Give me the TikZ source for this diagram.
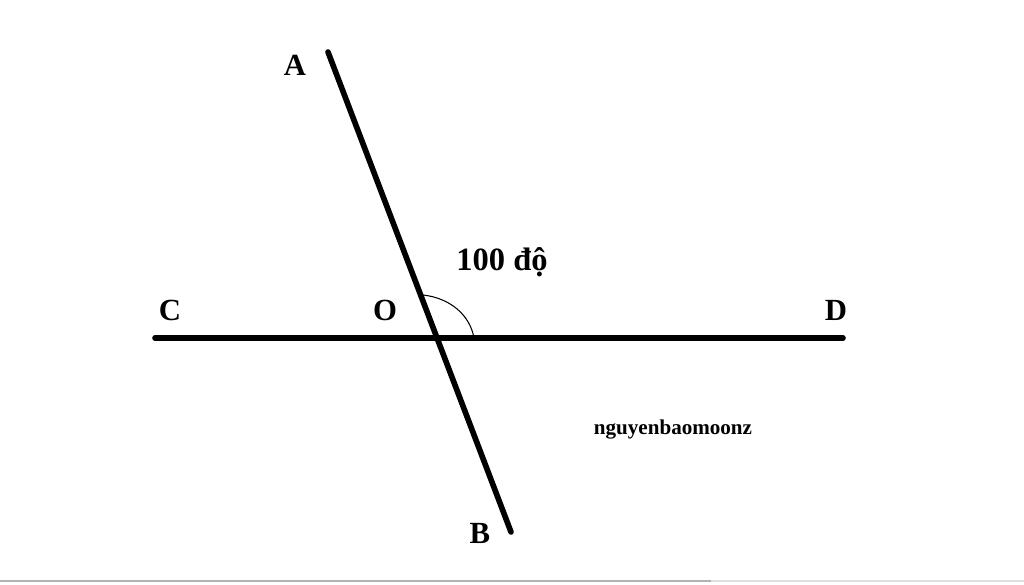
\documentclass[tikz,border=0pt]{standalone}
\usepackage{fontspec}
\setmainfont{Liberation Serif}
\begin{document}
\begin{tikzpicture}[line/.style={line width=3.2pt, line cap=round},
  lbl/.style={font=\fontsize{17.5}{20}\selectfont\bfseries, inner sep=0pt}]
\useasboundingbox (0,0) rectangle (20.48,-11.70);
\coordinate (a) at (6.56,-1.04);
\coordinate (b) at (10.22,-10.64);
\coordinate (c) at (3.10,-6.76);
\coordinate (d) at (16.86,-6.76);
\coordinate (o) at (8.74,-6.76);
\coordinate (s) at (8.46,-5.90);
\coordinate (e) at (9.48,-6.76);
\node[lbl] (A) at (5.90,-1.30) {A};
\node[lbl] (B) at (9.60,-10.66) {B};
\node[lbl] (C) at (3.40,-6.20) {C};
\node[lbl] (O) at (7.70,-6.20) {O};
\node[lbl] (D) at (16.72,-6.20) {D};
\node[lbl, font=\fontsize{18.5}{22}\selectfont\bfseries] (angle) at (10.04,-5.24) {100 độ};
\node[font=\fontsize{12}{14}\selectfont\bfseries, inner sep=0pt] (name) at (13.46,-8.60) {nguyenbaomoonz};
\draw[line] (a) -- (b);
\draw[line] (c) -- (d);
\draw[line width=0.6pt] (s) .. controls (9.00,-5.96) and (9.40,-6.30) .. (e);
\draw[gray!60, line width=0.8pt] (0,-11.62) -- (14.22,-11.62);
\draw[gray!25, line width=0.8pt] (14.22,-11.62) -- (20.48,-11.62);
\end{tikzpicture}
\end{document}
